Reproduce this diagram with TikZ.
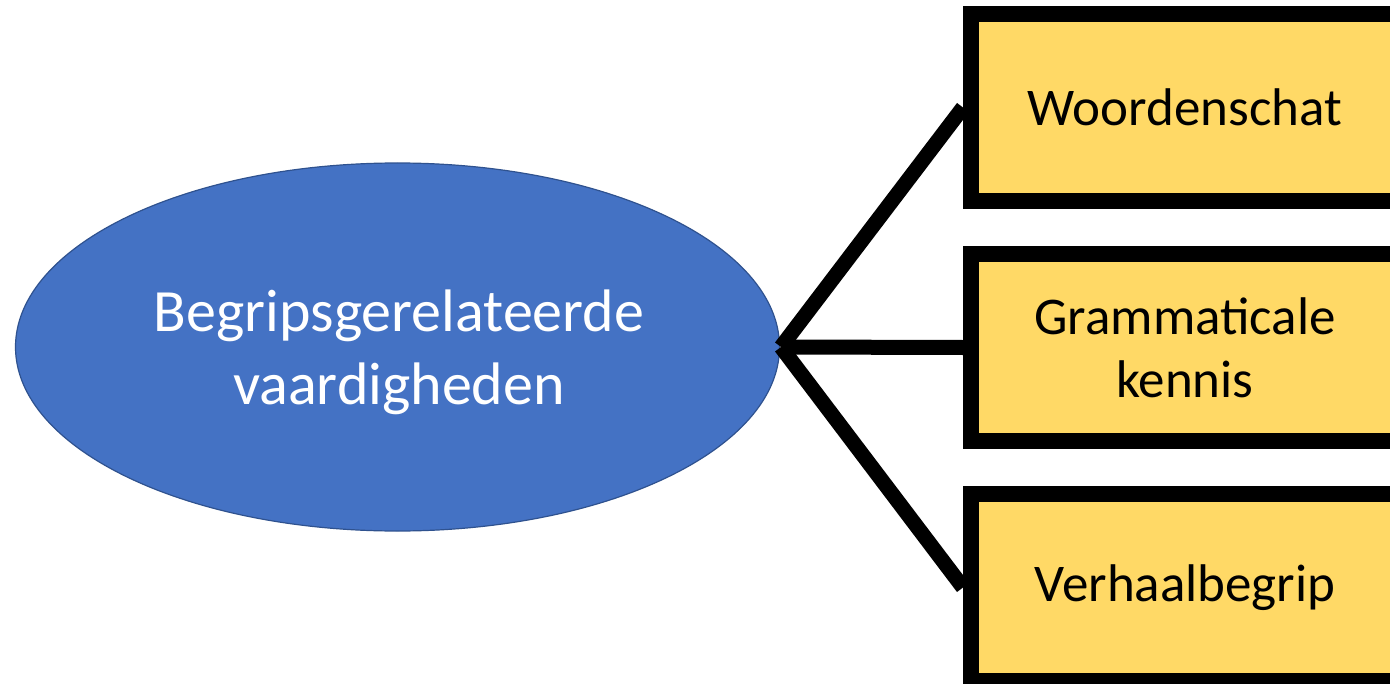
\documentclass[tikz,border=0pt]{standalone}
\usepackage{fontspec}
\setmainfont{Carlito}
\usepackage{tikz}
\usetikzlibrary{shapes.geometric}
\usetikzlibrary{positioning}
\usetikzlibrary{calc}

\definecolor{vaardblauw}{HTML}{4472C4}
\definecolor{vaardrand}{HTML}{2F528F}
\definecolor{kennisgeel}{HTML}{FFD966}

\tikzset{
	kennisbox/.style={draw=black, fill=kennisgeel, rectangle, line width=8pt,
		minimum width=214pt, minimum height=93.5pt, align=center,
		font=\fontsize{26.5}{31.5}\selectfont},
	tak/.style={draw=black, line width=7.5pt},
}

\begin{document}
\begin{tikzpicture}[x=0.5pt,y=-0.5pt]
	\useasboundingbox (0,0) rectangle (1390,684);
	% Hoofdbegrip
	% -----------
	\node[draw=vaardrand, fill=vaardblauw, ellipse, line width=0.6pt,
		  minimum width=382pt, minimum height=184pt]
		  (begrip) at (397.5,347) {};
	\node[align=center, text=white, font=\fontsize{30}{36.5}\selectfont]
		  (begriptekst) at (399,352) {Begripsgerelateerde\\vaardigheden};
	
	% de drie vaardigheden
	\node[kennisbox] (woord) at (1185,107.5) {Woordenschat};
	\node[kennisbox] (gram) at (1185,347.5) {Grammaticale\\kennis};
	\node[kennisbox] (verhaal) at (1185,587.5) {Verhaalbegrip};
	
	% vertakking
	\coordinate (hub) at (781,347);
	\draw[tak] (hub) -- (woord.west);
	\draw[tak] (hub) -- (gram.west);
	\draw[tak] (hub) -- (verhaal.west);
\end{tikzpicture}
\end{document}
